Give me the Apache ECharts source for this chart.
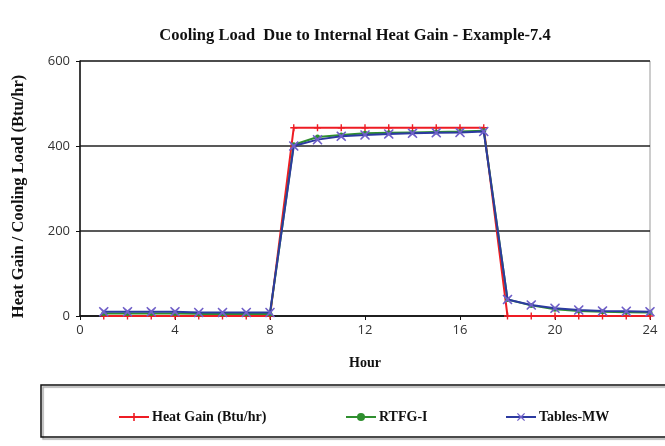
<!DOCTYPE html>
<html>
<head>
<meta charset="utf-8">
<script src="https://cdn.jsdelivr.net/npm/echarts@6/dist/echarts.min.js"></script>
<style>
  html, body { margin: 0; padding: 0; background: #fff; }
  #main { width: 665px; height: 446px; }
</style>
</head>
<body>
<div id="main"></div>
<script>
// 小时
const hours = [1, 2, 3, 4, 5, 6, 7, 8, 9, 10, 11, 12, 13, 14, 15, 16, 17, 18, 19, 20, 21, 22, 23, 24];
// Heat Gain (Btu/hr)
const heatGain = [0, 0, 0, 0, 0, 0, 0, 0, 443, 443, 443, 443, 443, 443, 443, 443, 443, 0, 0, 0, 0, 0, 0, 0];
// RTFG-I
const rtfg = [6, 6, 6, 6, 5, 5, 5, 5, 403, 421, 426, 430, 431, 432, 433, 434, 436, 39, 25, 16, 12, 10, 9, 8];
// Tables-MW
const tablesMW = [10, 10, 10, 10, 8, 8, 8, 8, 400, 415, 423, 426, 428, 430, 431, 432, 434, 39, 26, 18, 14, 12, 11, 10];
const xTicks = [0, 4, 8, 12, 16, 20, 24];

const plusPath = 'path://M4,0L6,0L6,4L10,4L10,6L6,6L6,10L4,10L4,6L0,6L0,4L4,4Z';
const crossPath = 'path://M1,0L5,3.6L9,0L10,1L6.4,5L10,9L9,10L5,6.4L1,10L0,9L3.6,5L0,1Z';

function pairs(vals) {
  let out = [];
  for (let i = 0; i < hours.length; i++) {
    out.push([hours[i], vals[i]]);
  }
  return out;
}

const chart = echarts.init(document.getElementById('main'));
const serif = '"Liberation Serif", "DejaVu Serif", serif';

const legendBase = {
  top: 405,
  itemWidth: 30,
  itemHeight: 10,
  itemGap: 4,
  textStyle: { fontFamily: serif, fontWeight: 'bold', fontSize: 14, color: '#111', padding: [0, 0, 0, -2] }
};

chart.setOption({
  backgroundColor: '#fff',
  title: {
    text: 'Cooling Load  Due to Internal Heat Gain - Example-7.4',
    left: 350,
    top: 22,
    textAlign: 'center',
    textStyle: { fontFamily: serif, fontWeight: 'bold', fontSize: 16.5, color: '#111' }
  },
  legend: [
    Object.assign({ left: 113, data: ['Heat Gain (Btu/hr)'] }, legendBase),
    Object.assign({ left: 340, data: ['RTFG-I'] }, legendBase),
    Object.assign({ left: 500, data: ['Tables-MW'] }, legendBase)
  ],
  graphic: [
    {
      type: 'rect',
      shape: { x: 41, y: 385, width: 640, height: 52 },
      style: { fill: 'none', stroke: '#111', lineWidth: 1.5, shadowColor: 'rgba(0,0,0,0.35)', shadowOffsetX: 2, shadowOffsetY: 2, shadowBlur: 1 }
    }
  ],
  grid: {
    left: 80,
    right: 15,
    top: 61,
    bottom: 130,
    show: true,
    borderColor: '#999',
    borderWidth: 1
  },
  xAxis: {
    type: 'value',
    min: 0,
    max: 24,
    interval: 4,
    name: 'Hour',
    nameLocation: 'middle',
    nameGap: 40,
    nameTextStyle: { fontFamily: serif, fontWeight: 'bold', fontSize: 14, color: '#111' },
    axisLine: { lineStyle: { color: '#111', width: 1.5 } },
    axisTick: { show: true, length: 4, lineStyle: { color: '#111' } },
    axisLabel: { fontFamily: 'Open Sans', fontSize: 13, color: '#333', margin: 8,
      customValues: xTicks },
    splitLine: { show: false }
  },
  yAxis: {
    type: 'value',
    min: 0,
    max: 600,
    interval: 200,
    name: 'Heat Gain / Cooling Load (Btu/hr)',
    nameLocation: 'middle',
    nameGap: 53,
    nameTextStyle: { fontFamily: serif, fontWeight: 'bold', fontSize: 16.5, color: '#111', padding: [0, 16, 0, 0] },
    axisLine: { show: true, lineStyle: { color: '#111', width: 1.5 } },
    axisTick: { show: true, length: 4, lineStyle: { color: '#111' } },
    axisLabel: { fontFamily: 'Open Sans', fontSize: 13, color: '#333', margin: 10 },
    splitLine: { show: true, lineStyle: { color: '#222', width: 1.5 } }
  },
  series: [
    {
      name: 'Heat Gain (Btu/hr)',
      type: 'line',
      data: pairs(heatGain),
      symbol: plusPath,
      symbolSize: 7,
      color: '#ee1c24',
      lineStyle: { width: 2, color: '#ee1c24' },
      itemStyle: { color: '#ee1c24' },
      z: 2
    },
    {
      name: 'RTFG-I',
      type: 'line',
      data: pairs(rtfg),
      symbol: 'circle',
      symbolSize: 5,
      color: '#2f8f2f',
      lineStyle: { width: 2, color: '#2f8f2f' },
      itemStyle: { color: '#2f8f2f' },
      z: 3
    },
    {
      name: 'Tables-MW',
      type: 'line',
      data: pairs(tablesMW),
      symbol: crossPath,
      symbolSize: 10,
      color: '#7060c8',
      lineStyle: { width: 2, color: '#2c3aa0' },
      itemStyle: { color: '#7060c8' },
      z: 4
    }
  ]
});
</script>
</body>
</html>
